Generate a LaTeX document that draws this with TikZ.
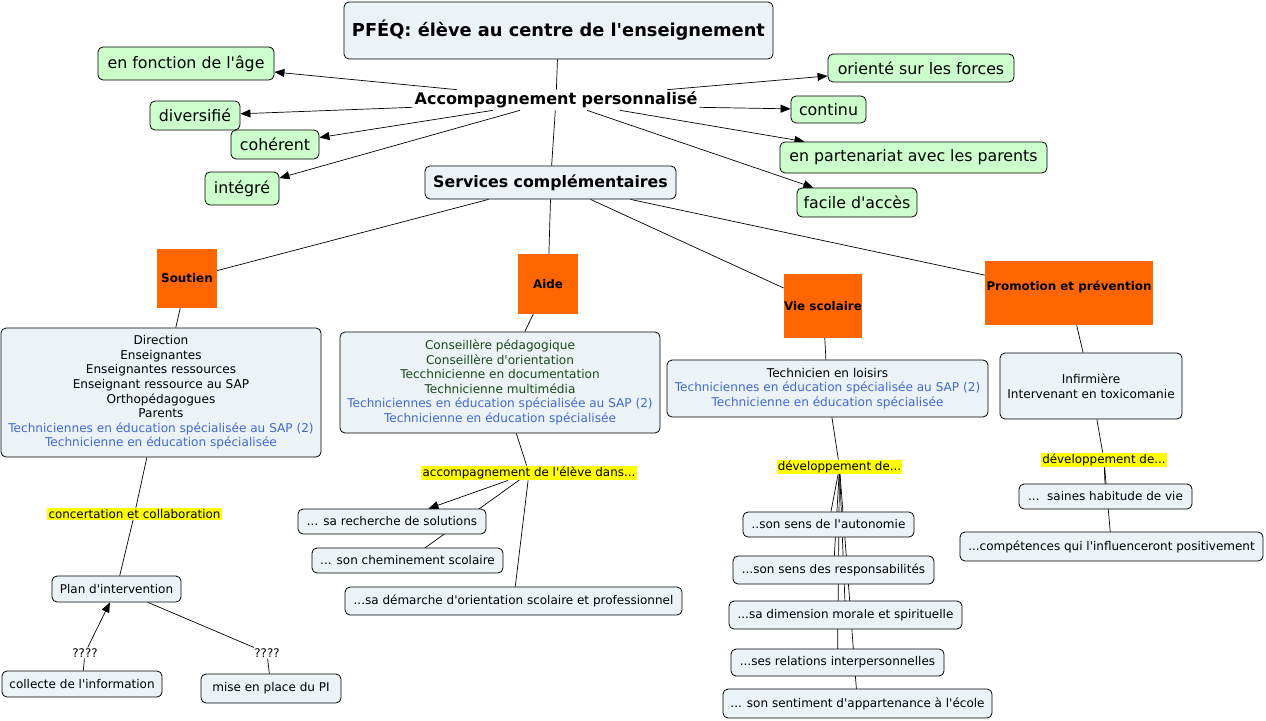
\documentclass[tikz,border=0pt]{standalone}
\usepackage{fontspec}
\setmainfont{DejaVu Sans}[Ligatures=TeXOff]
\usetikzlibrary{arrows.meta}
\pgfdeclarelayer{background}
\pgfsetlayers{background,main}
\definecolor{boxfill}{RGB}{236,243,246}
\definecolor{greenfill}{RGB}{204,255,204}
\definecolor{orangefill}{RGB}{255,102,0}
\definecolor{bluetext}{RGB}{65,105,210}
\definecolor{greentext}{RGB}{26,72,26}
\definecolor{hl}{RGB}{255,255,0}
\tikzset{
  lightbox/.style={draw=black, line width=0.8pt, rounded corners=5pt, fill=boxfill, inner sep=0pt, align=center},
  greenbox/.style={draw=black, line width=0.8pt, rounded corners=5pt, fill=greenfill, inner sep=0pt, align=center, font=\fontsize{15.8}{18}\selectfont},
  orangebox/.style={fill=orangefill, inner sep=0pt, align=center, font=\fontsize{11.9}{13}\selectfont\bfseries},
  listtext/.style={font=\fontsize{12.1}{14.6}\selectfont},
  smallbox/.style={lightbox, font=\fontsize{12}{14}\selectfont},
  hllabel/.style={fill=hl, inner sep=1.2pt, font=\fontsize{11.9}{13}\selectfont},
  plainlabel/.style={inner sep=1pt, font=\fontsize{11.9}{13}\selectfont},
  conn/.style={draw=black, line width=0.7pt},
  arr/.style={conn, -{Triangle[length=10pt,width=8pt]}}
}
\begin{document}
\begin{tikzpicture}[x=1pt,y=-1pt]
\useasboundingbox (0,0) rectangle (1266,720);
% top
\node[lightbox, minimum width=429pt, minimum height=57pt, font=\fontsize{17.8}{20}\selectfont\bfseries] (title) at (558.5,30.5) {PFÉQ: élève au centre de l'enseignement};
\node[inner sep=2pt, font=\fontsize{16}{18}\selectfont\bfseries] (acc) at (556,100) {Accompagnement personnalisé};
\node[lightbox, minimum width=251pt, minimum height=33pt, font=\fontsize{15.8}{18}\selectfont\bfseries] (serv) at (550.5,182.5) {Services complémentaires};
% green
\node[greenbox, minimum width=176pt, minimum height=33pt] (age) at (186,63.5) {en fonction de l'âge};
\node[greenbox, minimum width=90pt, minimum height=29pt] (div) at (195,115.5) {diversifié};
\node[greenbox, minimum width=88pt, minimum height=29pt] (coh) at (275,144.5) {cohérent};
\node[greenbox, minimum width=74pt, minimum height=33pt] (int) at (242,188.5) {intégré};
\node[greenbox, minimum width=186pt, minimum height=28pt] (forc) at (921,68) {orienté sur les forces};
\node[greenbox, minimum width=75pt, minimum height=27pt] (cont) at (828.5,109.5) {continu};
\node[greenbox, minimum width=267pt, minimum height=31pt] (part) at (913.5,157.5) {en partenariat avec les parents};
\node[greenbox, minimum width=120pt, minimum height=29pt] (fac) at (857,202.5) {facile d'accès};
% orange
\node[orangebox, minimum width=60pt, minimum height=59pt] (sout) at (187,278.5) {Soutien};
\node[orangebox, minimum width=60pt, minimum height=60pt] (aide) at (548,284) {Aide};
\node[orangebox, minimum width=78pt, minimum height=64pt] (vie) at (823,306) {Vie scolaire};
\node[orangebox, minimum width=168pt, minimum height=64pt] (promo) at (1069,293) {Promotion et prévention\\[2pt]~};
% lists
\node[lightbox, listtext, minimum width=320pt, minimum height=129pt] (soutl) at (161,392.5) {Direction\\Enseignantes\\Enseignantes ressources\\Enseignant ressource au SAP\\Orthopédagogues\\Parents\\\textcolor{bluetext}{Techniciennes en éducation spécialisée au SAP (2)}\\\textcolor{bluetext}{Technicienne en éducation spécialisée}};
\node[lightbox, listtext, minimum width=320pt, minimum height=101pt] (aidel) at (500,382.5) {\textcolor{greentext}{Conseillère pédagogique}\\\textcolor{greentext}{Conseillère d'orientation}\\\textcolor{greentext}{Tecchnicienne en documentation}\\\textcolor{greentext}{Technicienne multimédia}\\\textcolor{bluetext}{Techniciennes en éducation spécialisée au SAP (2)}\\\textcolor{bluetext}{Technicienne en éducation spécialisée}};
\node[lightbox, listtext, minimum width=321pt, minimum height=57pt] (viel) at (827.5,388.5) {Technicien en loisirs\\\textcolor{bluetext}{Techniciennes en éducation spécialisée au SAP (2)}\\\textcolor{bluetext}{Technicienne en éducation spécialisée}};
\node[lightbox, listtext, minimum width=182pt, minimum height=66pt] (promol) at (1091,386) {Infirmière\\Intervenant en toxicomanie};
% Soutien branch
\node[hllabel] (conc) at (134.5,514) {concertation et collaboration};
\node[smallbox, minimum width=129pt, minimum height=26pt] (plan) at (116.5,589) {Plan d'intervention};
\node[plainlabel] (q1) at (85,653) {????};
\node[plainlabel] (q2) at (267,653) {????};
\node[smallbox, minimum width=160pt, minimum height=26pt] (coll) at (82,684) {collecte de l'information};
\node[smallbox, minimum width=140pt, minimum height=29pt] (mise) at (271,688.5) {mise en place du PI};
% Aide branch
\node[hllabel] (accl) at (529,473) {accompagnement de l'élève dans...};
\node[smallbox, minimum width=188pt, minimum height=25pt] (rech) at (392,521.5) {... sa recherche de solutions};
\node[smallbox, minimum width=191pt, minimum height=25pt] (chem) at (407.5,560.5) {... son cheminement scolaire};
\node[smallbox, minimum width=337pt, minimum height=28pt] (dem) at (513.5,601) {...sa démarche d'orientation scolaire et professionnel};
% Vie branch
\node[hllabel] (dev) at (839.5,467) {développement de...};
\node[smallbox, minimum width=171pt, minimum height=25pt] (auto) at (828.5,524.5) {..son sens de l'autonomie};
\node[smallbox, minimum width=201pt, minimum height=28pt] (resp) at (833.5,570) {...son sens des responsabilités};
\node[smallbox, minimum width=233pt, minimum height=28pt] (dim) at (845.5,615) {...sa dimension morale et spirituelle};
\node[smallbox, minimum width=213pt, minimum height=27pt] (rel) at (837.5,662.5) {...ses relations interpersonnelles};
\node[smallbox, minimum width=269pt, minimum height=29pt] (sent) at (857.5,703.5) {... son sentiment d'appartenance à l'école};
% Promo branch
\node[hllabel] (dev2) at (1104,460) {développement de...};
\node[smallbox, minimum width=173pt, minimum height=25pt] (sain) at (1105.5,496.5) {...\ \ saines habitude de vie};
\node[smallbox, minimum width=303pt, minimum height=29pt] (comp) at (1111.5,546.5) {...compétences qui l'influenceront positivement};
% connectors
\begin{pgfonlayer}{background}
\draw[conn] (title) -- (acc);
\draw[conn] (acc) -- (serv);
\draw[arr] ([xshift=-99pt]acc.north) -- (age);
\draw[arr] ([yshift=3pt]acc.south west) -- (div);
\draw[arr] ([xshift=-63pt]acc.south) -- (coh);
\draw[arr] ([xshift=-36pt]acc.south) -- (int);
\draw[arr] ([xshift=111pt]acc.north) -- (forc);
\draw[arr] ([yshift=3pt]acc.south east) -- (cont);
\draw[arr] ([xshift=64pt]acc.south) -- ([xshift=-109pt]part.north);
\draw[arr] ([xshift=31pt]acc.south) -- (fac);
\draw[conn] ([xshift=-62pt]serv.south) -- (sout);
\draw[conn] (serv.south) -- (aide);
\draw[conn] ([xshift=40pt]serv.south) -- (vie);
\draw[conn] ([xshift=80pt]serv.south) -- (promo);
\draw[conn] (sout) -- (soutl);
\draw[conn] (aide) -- (aidel);
\draw[conn] (vie) -- (viel);
\draw[conn] (promo) -- (promol);
\draw[conn] (soutl) -- (conc.center) -- (plan);
\draw[conn] (coll) -- (q1);
\draw[arr] (q1) -- (plan);
\draw[conn] (plan) -- (q2);
\draw[conn] (q2) -- (mise);
\draw[conn] (aidel) -- (accl);
\draw[arr] (accl) -- (rech);
\draw[conn] (accl.center) -- (chem.center);
\draw[conn] (accl) -- (dem);
\draw[conn] (viel) -- (dev);
\draw[conn] (dev) -- (auto);
\draw[conn] (dev.center) -- (resp.center);
\draw[conn] (dev.center) -- (dim.center);
\draw[conn] (dev.center) -- (rel.center);
\draw[conn] (dev.center) -- (sent.center);
\draw[conn] (promol) -- (dev2);
\draw[conn] (dev2) -- (sain);
\draw[conn] (dev2.center) -- (comp.center);
\end{pgfonlayer}
\end{tikzpicture}
\end{document}
